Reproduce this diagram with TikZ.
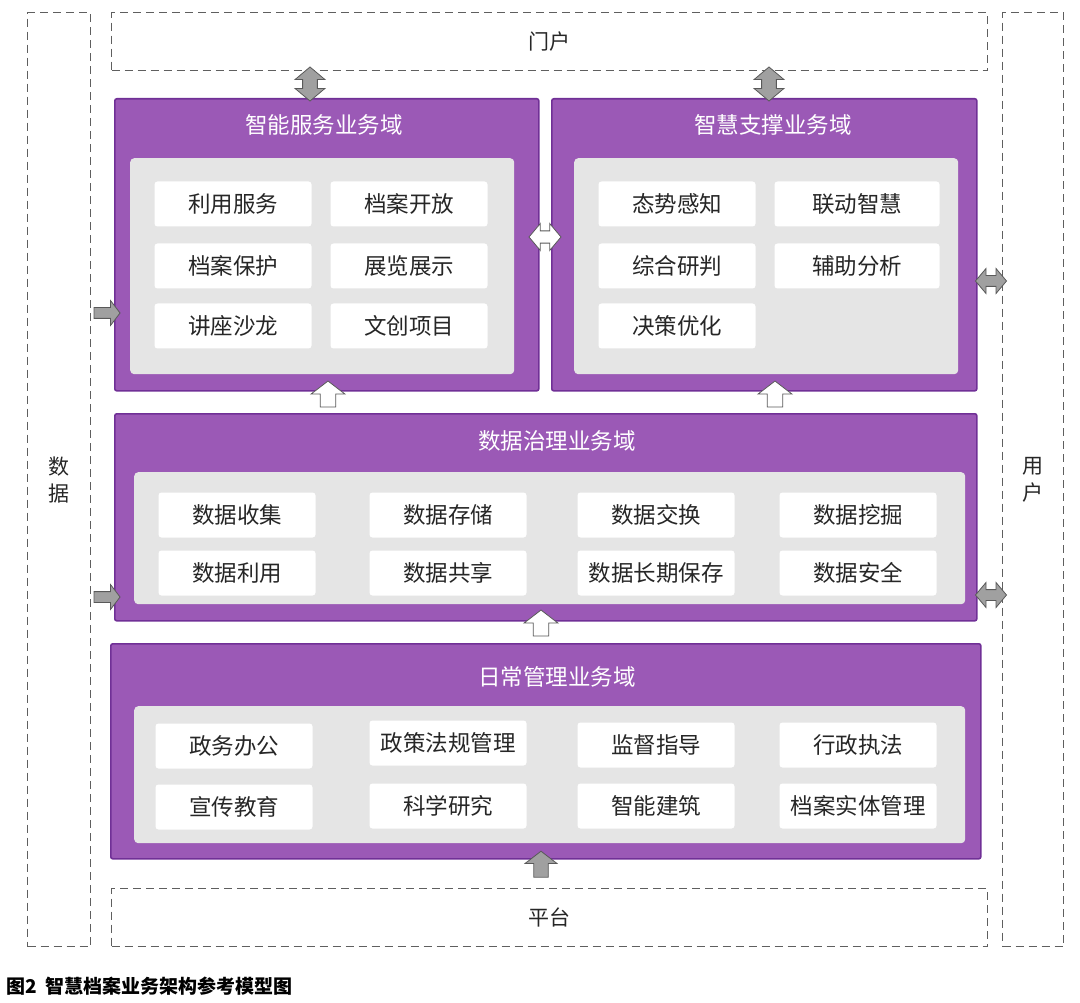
\documentclass[tikz,border=0pt]{standalone}
\usepackage{fontspec}
\setmainfont{Noto Sans CJK SC}
\usepackage{xcolor}
\usetikzlibrary{shapes.arrows, positioning, calc}

\definecolor{domainpurple}{RGB}{155,89,182}
\definecolor{domainedge}{RGB}{112,48,150}
\definecolor{panelgray}{RGB}{229,229,229}
\definecolor{arrowgray}{RGB}{160,160,160}
\definecolor{dashgray}{RGB}{95,95,95}

\begin{document}
\begin{tikzpicture}[x=1pt, y=-1pt]
    \tikzstyle{framebox} = [rectangle, draw=dashgray, dash pattern=on 8pt off 5pt, line width=1.1pt,
                         inner sep=0pt, anchor=north west, text=black!85, align=center,
                         font=\fontsize{21}{27}\selectfont]
    \tikzstyle{domainbox} = [rectangle, draw=domainedge, line width=1.6pt, fill=domainpurple,
                          rounded corners=2pt, anchor=north west, inner sep=0pt]
    \tikzstyle{panelbox} = [rectangle, fill=panelgray, rounded corners=4pt, anchor=north west, inner sep=0pt]
    \tikzstyle{itembox} = [rectangle, fill=white, rounded corners=3pt, minimum width=157pt,
                        minimum height=45pt, text=black!85, font=\fontsize{22.5}{26}\selectfont]
    \tikzstyle{domtitle} = [text=white, font=\fontsize{22.5}{26}\selectfont]
    \tikzstyle{twoway} = [double arrow, draw=black!65, line width=0.8pt, inner xsep=0pt, inner ysep=6.5pt,
                          double arrow tip angle=100, minimum width=30pt, minimum height=34pt]
    \tikzstyle{oneway} = [single arrow, draw=black!65, line width=0.8pt, inner xsep=0pt, inner ysep=5.5pt,
                          single arrow tip angle=105, minimum width=34pt, minimum height=26pt]

    \useasboundingbox (0,0) rectangle (1080,1003);

    % outer frames
    \node [framebox, minimum width=63pt, minimum height=934pt] (data) at (27,12) {数\\据};
    \node [framebox, minimum width=61pt, minimum height=934pt] (user) at (1002,12) {用\\户};
    \node [framebox, minimum width=876pt, minimum height=58pt] (portal) at (111,12) {门户};
    \node [framebox, minimum width=876pt, minimum height=58pt] (platform) at (111,888) {平台};

    % domains
    \node [domainbox, minimum width=424pt, minimum height=292pt] (svc) at (114,98) {};
    \node [panelbox, minimum width=384pt, minimum height=216pt] (svcpanel) at (130,158) {};
    \node [domtitle] (svctitle) at (324,125) {智能服务业务域};

    \node [domainbox, minimum width=425pt, minimum height=292pt] (sup) at (551,98) {};
    \node [panelbox, minimum width=384pt, minimum height=216pt] (suppanel) at (574,158) {};
    \node [domtitle] (suptitle) at (773,125) {智慧支撑业务域};

    \node [domainbox, minimum width=862pt, minimum height=207pt] (gov) at (114,413) {};
    \node [panelbox, minimum width=831pt, minimum height=132pt] (govpanel) at (134,472) {};
    \node [domtitle] (govtitle) at (557,441) {数据治理业务域};

    \node [domainbox, minimum width=870pt, minimum height=215pt] (mgmt) at (110,643) {};
    \node [panelbox, minimum width=831pt, minimum height=137pt] (mgmtpanel) at (134,706) {};
    \node [domtitle] (mgmttitle) at (557,677) {日常管理业务域};

    % items
    \node [itembox] (use) at (233,204) {利用服务};
    \node [itembox] (open) at (409,204) {档案开放};
    \node [itembox] (protect) at (233,266) {档案保护};
    \node [itembox] (exhibit) at (409,266) {展览展示};
    \node [itembox] (salon) at (233,326) {讲座沙龙};
    \node [itembox] (creative) at (409,326) {文创项目};

    \node [itembox] (sense) at (677,204) {态势感知};
    \node [itembox, minimum width=165pt] (linkage) at (857,204) {联动智慧};
    \node [itembox] (judge) at (677,266) {综合研判};
    \node [itembox, minimum width=165pt] (assist) at (857,266) {辅助分析};
    \node [itembox] (decide) at (677,326) {决策优化};

    \node [itembox] (collect) at (237,515) {数据收集};
    \node [itembox] (store) at (448,515) {数据存储};
    \node [itembox] (exchange) at (656,515) {数据交换};
    \node [itembox] (mine) at (858,515) {数据挖掘};
    \node [itembox] (utilize) at (237,573) {数据利用};
    \node [itembox] (share) at (448,573) {数据共享};
    \node [itembox] (preserve) at (656,573) {数据长期保存};
    \node [itembox] (secure) at (858,573) {数据安全};

    \node [itembox] (office) at (234,746) {政务办公};
    \node [itembox] (policy) at (448,743) {政策法规管理};
    \node [itembox] (supervise) at (656,745) {监督指导};
    \node [itembox] (enforce) at (858,745) {行政执法};
    \node [itembox] (publicity) at (234,807) {宣传教育};
    \node [itembox] (research) at (448,806) {科学研究};
    \node [itembox] (building) at (656,806) {智能建筑};
    \node [itembox] (entity) at (858,806) {档案实体管理};

    % block arrows
    \node [twoway, fill=arrowgray, rotate=90] (portalsvc) at (310,84) {};
    \node [twoway, fill=arrowgray, rotate=90] (portalsup) at (769,84) {};
    \node [twoway, fill=white, inner ysep=5.5pt, minimum width=27pt, minimum height=32pt] (svcsup) at (545,237) {};
    \node [twoway, fill=arrowgray, inner ysep=5pt, minimum width=23pt, minimum height=31pt] (supuser) at (991,281) {};
    \node [twoway, fill=arrowgray, inner ysep=5pt, minimum width=23pt, minimum height=31pt] (govuser) at (991,595) {};
    \node [oneway, fill=arrowgray, inner ysep=5pt, minimum width=25pt] (datasvc) at (105,313) {};
    \node [oneway, fill=arrowgray, inner ysep=5pt, minimum width=25pt] (datagov) at (105,597) {};
    \node [oneway, fill=white, rotate=90] (govsvc) at (328,397) {};
    \node [oneway, fill=white, rotate=90] (govsup) at (775,397) {};
    \node [oneway, fill=white, rotate=90] (mgmtgov) at (541,626) {};
    \node [oneway, fill=arrowgray, rotate=90, minimum width=32pt] (platformmgmt) at (541,867) {};

    \node [anchor=west, font=\fontsize{19}{22}\selectfont\bfseries] (caption) at (3,986)
        {图2\ \ 智慧档案业务架构参考模型图};
\end{tikzpicture}
\end{document}
